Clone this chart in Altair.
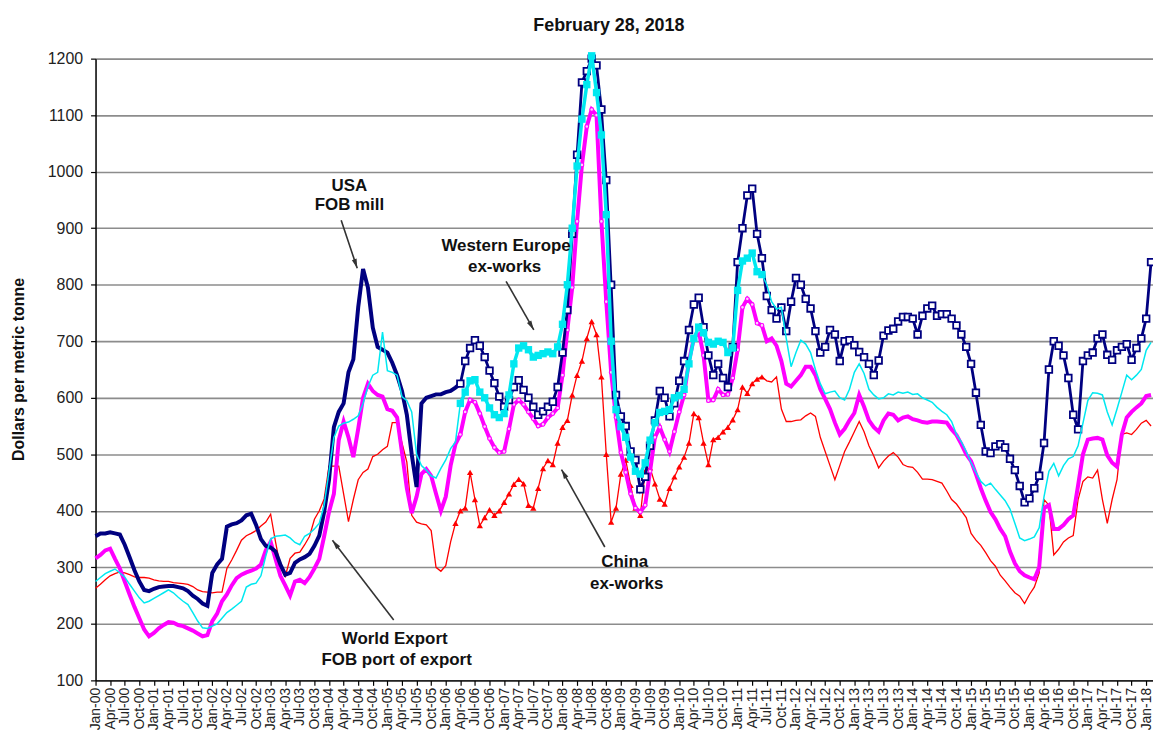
import math
import altair as alt
import pandas as pd

# Monthly prices, Jan-2000 .. Feb-2018 (US$ per metric tonne)
USA = [
    355, 360, 360, 362, 360, 358, 340, 318, 295, 275, 260, 258,
    262, 265, 266, 267, 267, 265, 263, 258, 250, 244, 236, 232,
    290, 305, 315, 372, 376, 378, 383, 392, 395, 375, 350, 338,
    335, 328, 305, 287, 290, 308, 314, 318, 324, 338, 356, 398,
    455, 548, 575, 590, 645, 668, 760, 828, 795, 724, 690, 685,
    680, 662, 640, 612, 570, 500, 442, 590, 600, 603, 606, 606,
    610, 612, 618, 625, 665, 688, 702, 692, 672, 648, 626, 602,
    584, 596, 619, 631, 614, 600, 584, 570, 576, 584, 593, 619,
    680, 755, 890, 1030, 1158, 1178, 1200, 1188, 1110, 985, 800, 605,
    567, 550, 505, 490, 438, 460, 515, 560, 612, 600, 567, 590,
    630, 665, 720, 765, 777, 725, 675, 640, 660, 635, 619, 690,
    840, 900, 958, 970, 890, 847, 780, 755, 740, 760, 718, 770,
    812, 800, 775, 758, 718, 680, 690, 720, 712, 665, 700, 702,
    693, 681, 672, 660, 640, 666, 710, 719, 722, 735, 743, 743,
    740, 712, 745, 758, 763, 745, 748, 748, 740, 728, 712, 690,
    660, 609, 552, 505, 502, 514, 518, 512, 492, 472, 444, 415,
    422, 440, 462, 520, 650, 700, 692, 675, 635, 570, 544, 665,
    675, 680, 705, 712, 676, 667, 684, 690, 695, 667, 688, 705,
    740, 840,
]
WEST_EUROPE = [
    275, 282, 289, 293, 297, 290, 283, 270, 258, 246, 237, 240,
    245, 250, 255, 260, 255, 247, 240, 234, 220, 205, 193, 192,
    196, 200, 210, 220, 226, 233, 240, 265, 270, 272, 285, 320,
    350, 355, 356, 357, 352, 344, 340, 355, 360, 368, 378, 410,
    470, 530, 550, 555, 557, 562, 568, 590, 620, 640, 645, 716,
    648, 645, 640, 602, 595, 575, 500, 480, 472, 462, 458, 475,
    490, 510, 522, 590, 610, 630, 632, 610, 600, 582, 570, 565,
    572, 605, 660, 688, 692, 685, 672, 675, 678, 681, 678, 690,
    730, 800, 900, 1010, 1093, 1154, 1205, 1140, 1065, 924, 700, 579,
    549, 530, 495, 470, 465, 485, 525, 556, 574, 576, 579, 600,
    604, 615, 660, 705, 725, 715, 698, 695, 700, 698, 680, 688,
    790, 842, 847, 856, 823, 818, 800, 770, 757, 760, 705, 655,
    680, 702, 695, 680, 650, 625, 607, 610, 612, 600, 596, 615,
    645, 660, 643, 615, 605, 598, 600, 607, 605, 610, 608, 610,
    606, 607, 600, 596, 592, 583, 576, 570, 558, 535, 522, 505,
    485, 468, 452, 444, 449, 438, 428, 418, 403, 378, 352, 347,
    350, 354, 370, 425, 470, 484, 462, 480, 492, 496, 515, 555,
    595, 609, 608, 605, 575, 552, 580, 610, 640, 632, 640, 650,
    684, 698,
]
WORLD_EXPORT = [
    316, 322, 330, 333, 315, 298, 275, 252, 230, 210, 190, 178,
    184, 192, 198, 203, 202, 198, 196, 192, 188, 183, 178, 180,
    205, 218, 240, 252, 268, 281, 287, 291, 294, 298, 305, 330,
    345, 315, 285, 268, 250, 275, 278, 272, 283, 298, 315, 355,
    398, 430, 525, 558, 530, 495, 545, 600, 625, 612, 605, 602,
    580, 577, 565, 503, 440, 396, 425, 465, 474, 462, 430, 400,
    425, 480, 518, 535, 575, 596, 592, 572, 549, 528, 512, 503,
    505, 545, 588, 596, 588, 575, 563, 550, 553, 565, 572, 582,
    640, 720, 795, 912, 1012, 1080, 1110, 1100, 912, 770, 645, 565,
    503, 468, 430, 405, 398, 410, 470, 530, 548, 526, 505, 540,
    575, 605, 665, 705, 718, 675, 595, 596, 615, 605, 606, 635,
    685, 760, 775, 765, 732, 728, 700, 705, 692, 665, 625, 620,
    630, 640, 655, 655, 640, 615, 598, 580, 556, 535, 545, 560,
    573, 605, 584, 560, 548, 540, 560, 572, 570, 560, 565, 567,
    562, 560, 557, 556, 558, 558, 557, 556, 544, 534, 518, 500,
    488, 465, 440, 418, 398, 385, 368, 355, 328, 307, 293, 286,
    282, 279, 300, 405, 410, 368, 368, 375, 385, 392, 445, 500,
    526, 528, 529, 526, 498, 485, 478, 535, 565, 575, 583, 590,
    603, 605,
]
CHINA = [
    263, 270, 278, 285, 289, 292, 290, 287, 283, 282, 282, 281,
    278, 276, 275, 275, 273, 272, 271, 270, 266, 260, 257, 256,
    255, 256, 256, 298, 313, 330, 348, 356, 360, 365, 373, 380,
    394, 345, 301, 284, 316, 325, 327, 340, 355, 385, 400, 421,
    479, 479, 479, 430, 381, 420, 455, 468, 474, 496, 500, 508,
    514, 556, 556, 520, 486, 392, 380, 377, 375, 365, 300, 293,
    303, 345, 378, 400, 405, 468, 420, 374, 388, 402, 392, 400,
    415, 430, 447, 456, 448, 410, 405, 440, 475, 489, 482, 520,
    548, 560, 605, 640, 665, 705, 735, 712, 637, 500, 380, 405,
    465, 490, 445, 405, 392, 470, 476, 448, 421, 412, 440, 460,
    478, 495, 520, 572, 565, 520, 482, 526, 530, 540, 548, 561,
    579, 619, 608, 625, 633, 637, 630, 628, 637, 580, 558, 558,
    560, 561, 568, 573, 567, 530, 505, 480, 455, 480, 505, 522,
    540, 558, 540, 515, 497, 476, 488, 497, 503, 495, 482, 478,
    477, 468, 456, 456, 455, 452, 449, 435, 420, 412, 400, 388,
    360, 348, 339, 326, 312, 302, 286, 276, 265, 255, 249, 236,
    252, 265, 290, 420, 410, 322, 332, 345, 352, 356, 420, 452,
    460, 458, 472, 420, 378, 420, 455, 535, 538, 535, 544, 555,
    560, 550,
]

TITLE = "February 28, 2018"
Y_TITLE = "Dollars per metric tonne"
QUARTER_NAMES = ["Jan", "Apr", "Jul", "Oct"]

# annotation labels: text, month index, value (baseline)
LABEL_TEXT = ["USA", "FOB mill", "Western Europe", "ex-works", "China", "ex-works",
              "World Export", "FOB port of export"]
LABEL_M = [52.2, 52.2, 84.4, 84.1, 108.8, 109.2, 61.5, 61.9]
LABEL_V = [966, 933, 860, 822, 301, 262, 165, 128]

# arrows: tail (m, v) -> head (m, v)
ARROW_M0 = [50.5, 84.4, 104.7, 61.3]
ARROW_V0 = [914, 806, 336, 207]
ARROW_M1 = [53.8, 90.1, 95.8, 48.7]
ARROW_V1 = [829, 720, 473, 348]

MARK_START, MARK_END = 75, 137   # Apr-06 .. Jun-11 (marker segment)

W, H = 1063, 625
XMAX = 217.4
PXM = W / XMAX
PXV = H / 1100.0

months = list(range(len(USA)))

def frame(vals):
    return pd.DataFrame({"m": months, "v": vals})

usa = frame(USA)
we = frame(WEST_EUROPE)
wx = frame(WORLD_EXPORT)
cn = frame(CHINA)

def seg(df, a, b):
    return df[(df.m >= a) & (df.m <= b)]

label_expr = ("['" + "','".join(QUARTER_NAMES) + "'][floor((datum.value % 12) / 3)] + '-' + "
              "(floor(datum.value / 12) < 10 ? '0' : '') + floor(datum.value / 12)")

FONT = "Liberation Sans"

x_axis = alt.Axis(values=list(range(0, 217, 3)), labelExpr=label_expr, labelAngle=270,
                  labelFontSize=14, labelFont=FONT, labelColor="#222", tickSize=5,
                  tickColor="black", tickWidth=1.2, domainColor="black", domainWidth=1.5,
                  grid=False, title=None, labelPadding=2, labelOverlap=False,
                  labelFlush=False, labelBound=False)
y_axis = alt.Axis(values=list(range(100, 1201, 100)), format="d", labelFontSize=16,
                  labelFont=FONT, labelColor="#222", tickSize=5, tickColor="black",
                  tickWidth=1.2, labelPadding=8, grid=True, gridColor="#8c8c8c",
                  gridWidth=1.6, domainColor="black", domainWidth=1.5, title=Y_TITLE,
                  titleFont=FONT, titleFontSize=16, titleFontWeight="bold",
                  titleColor="#111", titleAngle=270, titleX=-77, titleY=312,
                  titleAlign="center", titleBaseline="middle")

X = alt.X("m:Q", scale=alt.Scale(domain=[0, XMAX], nice=False, zero=False), axis=x_axis)
Y = alt.Y("v:Q", scale=alt.Scale(domain=[100, 1200], nice=False, zero=False), axis=y_axis)

NAVY = "#000080"
CYAN = "#00E8F0"
MAG = "#FF00FF"
RED = "#FF0000"

layers = []
# China (red)
layers.append(alt.Chart(cn).mark_line(color=RED, strokeWidth=1.3).encode(x=X, y=Y))
layers.append(alt.Chart(seg(cn, MARK_START - 1, MARK_END)).mark_point(
    shape="triangle-up", filled=True, size=40, color=RED, opacity=1).encode(x=X, y=Y))
# World export (magenta)
layers.append(alt.Chart(wx).mark_line(color=MAG, strokeWidth=4).encode(x=X, y=Y))
layers.append(alt.Chart(seg(wx, MARK_START, MARK_END)).mark_point(
    shape="circle", filled=True, size=14, fill="#FFD0FF", stroke=MAG, strokeWidth=1.1,
    opacity=1).encode(x=X, y=Y))
# USA (navy)
layers.append(alt.Chart(seg(usa, 0, MARK_START)).mark_line(color=NAVY, strokeWidth=4).encode(x=X, y=Y))
layers.append(alt.Chart(seg(usa, MARK_START, 300)).mark_line(color=NAVY, strokeWidth=2.8).encode(x=X, y=Y))
layers.append(alt.Chart(seg(usa, MARK_START, 300)).mark_point(
    shape="square", filled=True, size=44, fill="white", stroke=NAVY, strokeWidth=1.8,
    opacity=1).encode(x=X, y=Y))
# Western Europe (cyan)
layers.append(alt.Chart(we).mark_line(color=CYAN, strokeWidth=1.5).encode(x=X, y=Y))
layers.append(alt.Chart(seg(we, MARK_START, MARK_END)).mark_line(color=CYAN, strokeWidth=3.5).encode(x=X, y=Y))
layers.append(alt.Chart(seg(we, MARK_START, MARK_END)).mark_point(
    shape="square", filled=True, size=55, color=CYAN, opacity=1).encode(x=X, y=Y))

# annotations
ann = pd.DataFrame({"t": LABEL_TEXT, "m": LABEL_M, "v": LABEL_V})
layers.append(alt.Chart(ann).mark_text(font=FONT, fontSize=17, fontWeight="bold",
                                       color="#111", align="center", baseline="alphabetic")
              .encode(x=X, y=Y, text="t:N"))

angles = []
for m0, v0, m1, v1 in zip(ARROW_M0, ARROW_V0, ARROW_M1, ARROW_V1):
    dx = (m1 - m0) * PXM
    dy = -(v1 - v0) * PXV
    angles.append(math.degrees(math.atan2(dx, -dy)) % 360)
arr = pd.DataFrame({"m": ARROW_M0, "v": ARROW_V0, "m2": ARROW_M1, "v2": ARROW_V1, "a": angles})
layers.append(alt.Chart(arr).mark_rule(color="#333", strokeWidth=1.6).encode(
    x=X, y=Y, x2="m2:Q", y2="v2:Q"))
layers.append(alt.Chart(arr).mark_point(shape="M0,0L0.5,1.9L-0.5,1.9Z", filled=True, size=100,
                                        color="#333", opacity=1).encode(
    x=alt.X("m2:Q", scale=alt.Scale(domain=[0, XMAX], nice=False, zero=False), axis=x_axis),
    y=alt.Y("v2:Q", scale=alt.Scale(domain=[100, 1200], nice=False, zero=False), axis=y_axis),
    angle=alt.Angle("a:Q", scale=None)))

# title text
title_df = pd.DataFrame({"t": [TITLE]})
layers.append(alt.Chart(title_df).mark_text(font=FONT, fontSize=18, fontWeight="bold",
                                            color="#111", align="center",
                                            baseline="alphabetic")
              .encode(x=alt.value(516), y=alt.value(-28), text="t:N"))

chart = alt.layer(*layers).properties(
    width=W, height=H,
    padding={"left": 88, "top": 49, "right": 0, "bottom": 52},
    autosize=alt.AutoSizeParams(type="none"),
).configure_view(stroke=None).configure(background="white")

chart.save("out.html", embed_options={"renderer": "svg", "actions": False})
